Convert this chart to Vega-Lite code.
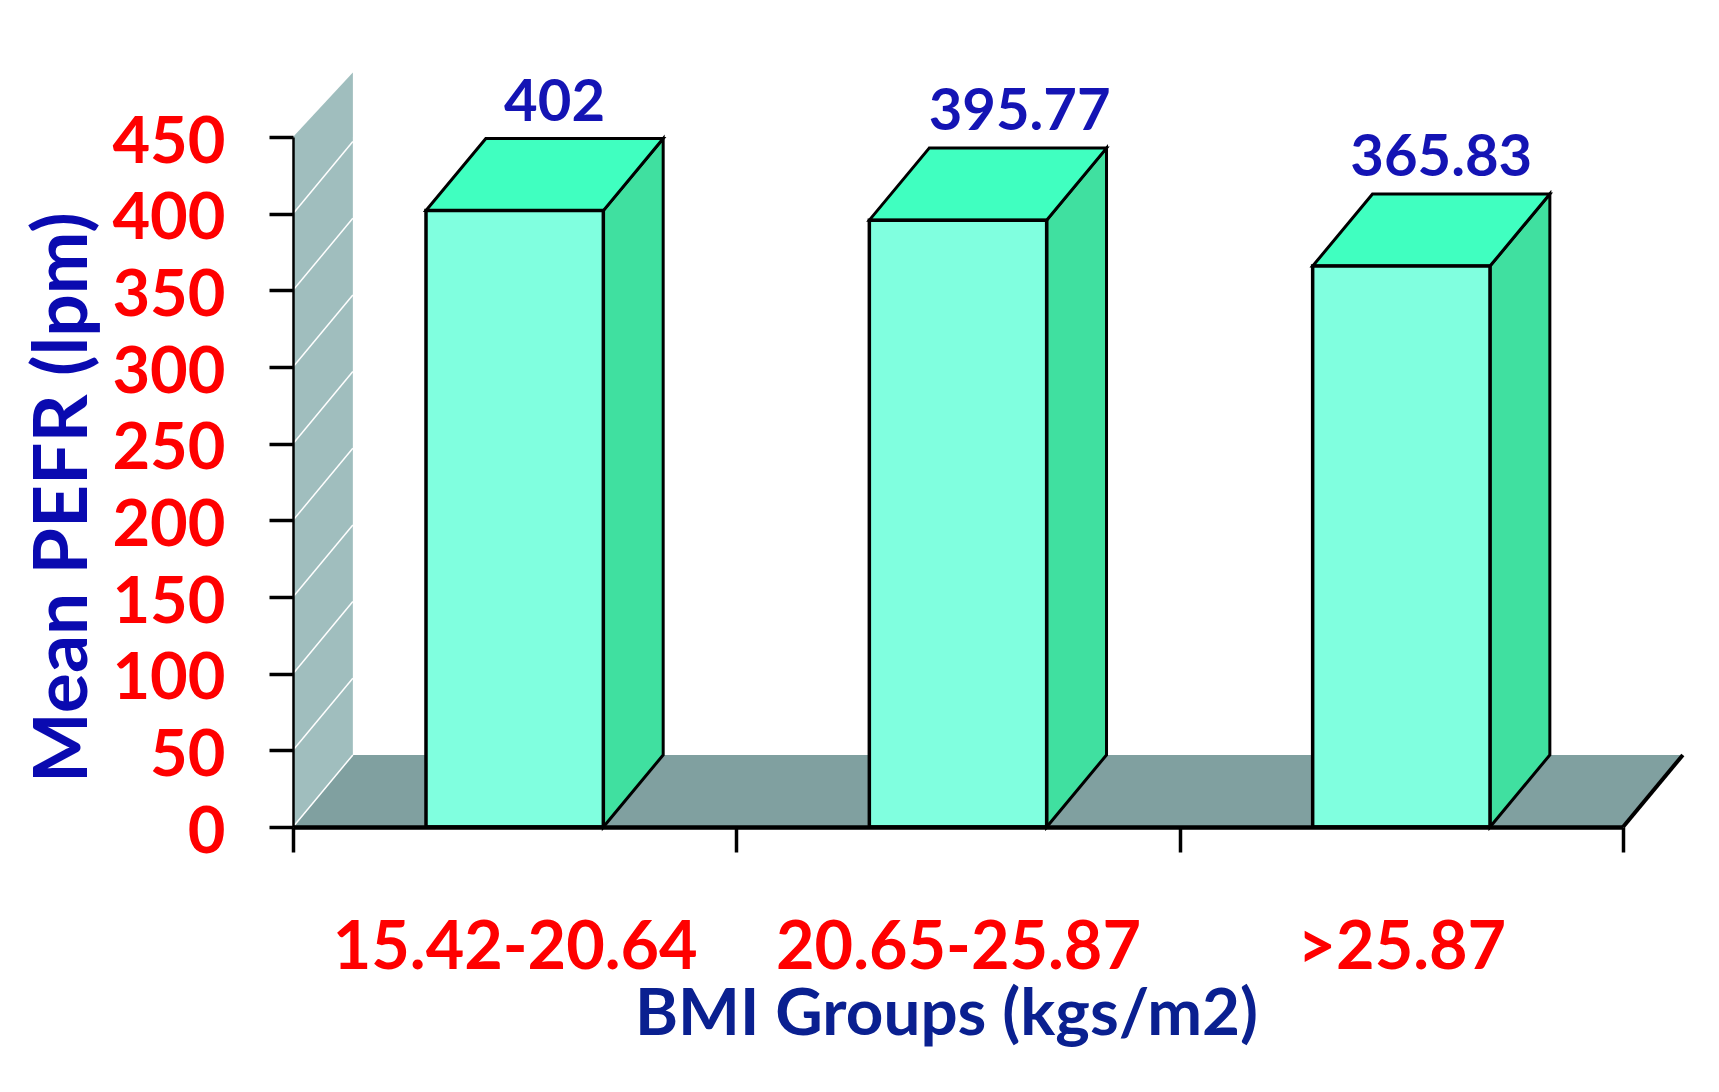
{
"$schema":"https://vega.github.io/schema/vega-lite/v6.json",
"width":1330,"height":690,
"autosize":{"type":"none"},
"padding":{"left":293,"top":137,"right":96,"bottom":265},
"background":"white",
"config":{"view":{"stroke":null},"font":"Lato"},
"resolve":{"axis":{"x":"independent","y":"independent"}},
"datasets":{
"bars":[{"group":"15.42-20.64","i":0,"value":402},{"group":"20.65-25.87","i":1,"value":395.77},{"group":">25.87","i":2,"value":365.83}],
"ticks":[{"tick":0},{"tick":50},{"tick":100},{"tick":150},{"tick":200},{"tick":250},{"tick":300},{"tick":350},{"tick":400}]
},
"layer":[
{"data":{"values":[{"px":0,"lo":0,"hi":0,"left":0,"right":3},{"px":0.135,"lo":47,"hi":47,"left":0.135,"right":3.135}]},
 "mark":{"type":"area","orient":"horizontal","color":"#80A0A0"},
 "encoding":{
  "y":{"field":"lo","type":"quantitative","scale":{"domain":[0,450],"nice":false,"zero":false},
   "axis":{"values":[0,50,100,150,200,250,300,350,400,450],"grid":false,"title":"Mean PEFR (lpm)","domainColor":"black","domainWidth":2.5,"tickColor":"black","tickWidth":3.5,"tickSize":24,"labelColor":"#FF0000","labelFont":"Lato","labelFontWeight":"bold","labelFontSize":65,"labelPadding":44,"labelOffset":5,"labelOverlap":false,"labelBound":false,"labelLimit":400,"titleColor":"#0A0AB0","titleFont":"Lato","titleFontWeight":"bold","titleFontSize":75,"titleLimit":900,"titleAngle":-90,"titleX":-230,"titleY":360,"titleAlign":"center","titleBaseline":"middle","zindex":1}},
  "x":{"field":"left","type":"quantitative","scale":{"domain":[0,3],"nice":false,"zero":false},
   "axis":{"values":[0,0.5,1,1.5,2,2.5,3],"grid":false,"title":"BMI Groups (kgs/m2)","domainColor":"black","domainWidth":4.5,"tickColor":"black","tickWidth":3.5,"tickSize":25,"tickOpacity":{"condition":{"test":"datum.value % 1 === 0","value":1},"value":0},"labelExpr":"datum.value === 0.5 ? '15.42-20.64' : datum.value === 1.5 ? '20.65-25.87' : datum.value === 2.5 ? '>25.87' : ''","labelColor":"#FF0000","labelFont":"Lato","labelFontWeight":"bold","labelFontSize":66.5,"labelPadding":63,"labelLimit":600,"labelOverlap":false,"labelBound":false,"labelFlush":false,"titleColor":"#0A2090","titleFont":"Lato","titleFontWeight":"bold","titleFontSize":65.5,"titleLimit":900,"titleX":653,"titleY":187,"titleAlign":"center","titleBaseline":"middle","zindex":1}},
  "x2":{"field":"right"}
 }},
{"data":{"values":[{"px":0,"lo":0,"hi":450},{"px":0.135,"lo":47,"hi":492}]},
 "mark":{"type":"area","color":"#A0BEBE"},
 "encoding":{
  "x":{"field":"px","type":"quantitative","scale":{"domain":[0,3],"nice":false,"zero":false},"axis":null},
  "y":{"field":"hi","type":"quantitative","scale":{"domain":[0,450],"nice":false,"zero":false},"axis":null},
  "y2":{"field":"lo"}
 }},
{"data":{"name":"ticks"},
 "transform":[{"calculate":"datum.tick + 47","as":"back"},{"calculate":"0","as":"x0"},{"calculate":"0.135","as":"x1"}],
 "mark":{"type":"rule","color":"#FFFFFF","strokeWidth":1.5},
 "encoding":{
  "x":{"field":"x0","type":"quantitative","scale":{"domain":[0,3],"nice":false,"zero":false},"axis":null},
  "x2":{"field":"x1"},
  "y":{"field":"tick","type":"quantitative","scale":{"domain":[0,450],"nice":false,"zero":false},"axis":null},
  "y2":{"field":"back"}
 }},
{"data":{"values":[{"a":3,"b":3.135,"c":0,"d":47}]},
 "mark":{"type":"rule","color":"black","strokeWidth":4},
 "encoding":{
  "x":{"field":"a","type":"quantitative","scale":{"domain":[0,3],"nice":false,"zero":false},"axis":null},
  "x2":{"field":"b"},
  "y":{"field":"c","type":"quantitative","scale":{"domain":[0,450],"nice":false,"zero":false},"axis":null},
  "y2":{"field":"d"}
 }},
{"data":{"name":"bars"},
 "transform":[
  {"calculate":"datum.i + 0.7","as":"near"},
  {"calculate":"datum.i + 0.835","as":"far"},
  {"fold":["near","far"],"as":["edge","px"]},
  {"calculate":"datum.edge === 'near' ? 0 : 47","as":"lo"},
  {"calculate":"datum.value + datum.lo","as":"hi"}
 ],
 "mark":{"type":"area","color":"#40E0A0","stroke":"black","strokeWidth":3},
 "encoding":{
  "x":{"field":"px","type":"quantitative","scale":{"domain":[0,3],"nice":false,"zero":false},"axis":null},
  "y":{"field":"hi","type":"quantitative","scale":{"domain":[0,450],"nice":false,"zero":false},"axis":null},
  "y2":{"field":"lo"},
  "detail":{"field":"group"}
 }},
{"data":{"name":"bars"},
 "transform":[
  {"calculate":"datum.value","as":"near"},
  {"calculate":"datum.value + 47","as":"far"},
  {"fold":["near","far"],"as":["edge","ty"]},
  {"calculate":"datum.i + 0.3 + (datum.edge === 'near' ? 0 : 0.135)","as":"tx0"},
  {"calculate":"datum.tx0 + 0.4","as":"tx1"}
 ],
 "mark":{"type":"area","orient":"horizontal","color":"#40FFC0","stroke":"black","strokeWidth":3},
 "encoding":{
  "y":{"field":"ty","type":"quantitative","scale":{"domain":[0,450],"nice":false,"zero":false},"axis":null},
  "x":{"field":"tx0","type":"quantitative","scale":{"domain":[0,3],"nice":false,"zero":false},"axis":null},
  "x2":{"field":"tx1"},
  "detail":{"field":"group"}
 }},
{"data":{"name":"bars"},
 "transform":[
  {"calculate":"datum.i + 0.3","as":"fx0"},
  {"calculate":"datum.i + 0.7","as":"fx1"},
  {"calculate":"0","as":"base"}
 ],
 "mark":{"type":"rect","color":"#80FFDF","stroke":"black","strokeWidth":3.5},
 "encoding":{
  "x":{"field":"fx0","type":"quantitative","scale":{"domain":[0,3],"nice":false,"zero":false},"axis":null},
  "x2":{"field":"fx1"},
  "y":{"field":"value","type":"quantitative","scale":{"domain":[0,450],"nice":false,"zero":false},"axis":null},
  "y2":{"field":"base"}
 }},
{"data":{"name":"bars"},
 "transform":[
  {"calculate":"datum.i + 0.5 + (datum.i === 1 ? 0.139 : 0.09)","as":"lx"},
  {"calculate":"datum.value + 47","as":"ly"}
 ],
 "mark":{"type":"text","color":"#1414B4","font":"Lato","fontWeight":"bold","fontSize":58,"baseline":"middle","align":"center","dy":-35},
 "encoding":{
  "x":{"field":"lx","type":"quantitative","scale":{"domain":[0,3],"nice":false,"zero":false},"axis":null},
  "y":{"field":"ly","type":"quantitative","scale":{"domain":[0,450],"nice":false,"zero":false},"axis":null},
  "text":{"field":"value","type":"quantitative","format":".5~f"}
 }}
]
}
